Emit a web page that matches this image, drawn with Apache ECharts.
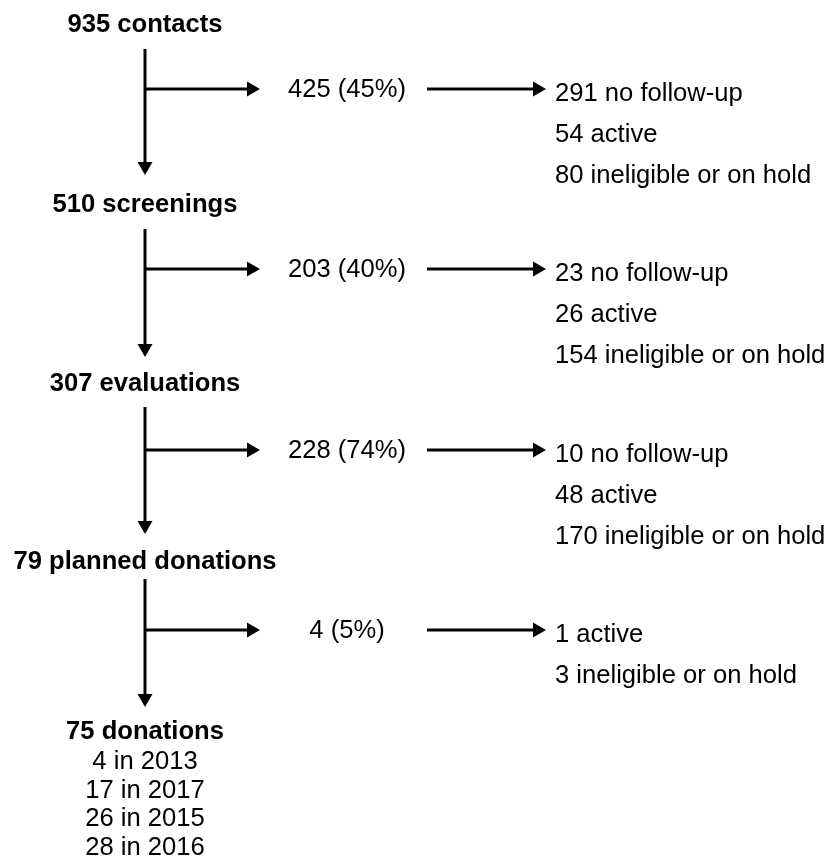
<!DOCTYPE html>
<html>
<head>
<meta charset="utf-8">
<script src="https://cdn.jsdelivr.net/npm/echarts@6/dist/echarts.min.js"></script>
<style>
  html, body { margin: 0; padding: 0; background: #ffffff; }
  #chart { width: 833px; height: 859px; }
</style>
</head>
<body>
<div id="chart"></div>
<script>
// ---------- DATA ----------
const stageCounts = [935, 510, 307, 79, 75];
const stageNames = ['contacts', 'screenings', 'evaluations', 'planned donations', 'donations'];
const exitCounts = [425, 203, 228, 4];
const exitPercents = [45, 40, 74, 5];
const noFollowUp = [291, 23, 10, null];
const active = [54, 26, 48, 1];
const ineligible = [80, 154, 170, 3];
const donationCounts = [4, 17, 26, 28];
const donationYears = [2013, 2017, 2015, 2016];

// ---------- LAYOUT (axis units = pixels of the canvas) ----------
const LAYOUT = {
  mainX: 145, branchTipX: 260, exitX: 347,
  outArrowX0: 427, outArrowX1: 546, outX: 555,
  stageY: [25, 205, 384, 562, 732],
  downStart: [49, 229, 407, 579],
  downTip: [175, 357, 534, 707],
  branchY: [89, 269, 450, 630],
  exitDy: 1, outDy: 5, outStep: 41,
  yearY0: 762, yearStep: 28.6
};
const FONT = '"Liberation Sans", Arial, sans-serif';
const FONT_SIZE = 25.6;
const INK = '#000000';
const LW = 3;
const HEAD_L = 13, HEAD_W = 15;

function hArrow(api, x0, x1, y) {
  const a = api.coord([x0, y]), b = api.coord([x1, y]);
  return [
    { type: 'line', shape: { x1: a[0], y1: a[1], x2: b[0] - HEAD_L + 1, y2: b[1] },
      style: { stroke: INK, lineWidth: LW } },
    { type: 'polygon', shape: { points: [[b[0], b[1]], [b[0] - HEAD_L, b[1] - HEAD_W / 2], [b[0] - HEAD_L, b[1] + HEAD_W / 2]] },
      style: { fill: INK } }
  ];
}
function vArrow(api, x, y0, y1) {
  const a = api.coord([x, y0]), b = api.coord([x, y1]);
  return [
    { type: 'line', shape: { x1: a[0], y1: a[1], x2: b[0], y2: b[1] - HEAD_L + 1 },
      style: { stroke: INK, lineWidth: LW } },
    { type: 'polygon', shape: { points: [[b[0], b[1]], [b[0] - HEAD_W / 2, b[1] - HEAD_L], [b[0] + HEAD_W / 2, b[1] - HEAD_L]] },
      style: { fill: INK } }
  ];
}
function txt(api, x, y, text, bold, align) {
  const p = api.coord([x, y]);
  return { type: 'text', style: { text: text, x: p[0], y: p[1], fill: INK,
    font: (bold ? 'bold ' : '') + FONT_SIZE + 'px ' + FONT, align: align || 'center', verticalAlign: 'middle' } };
}

const chart = echarts.init(document.getElementById('chart'), null, { renderer: 'canvas' });
chart.setOption({
  animation: false,
  backgroundColor: '#ffffff',
  grid: { left: 0, right: 0, top: 0, bottom: 0 },
  xAxis: { type: 'value', min: 0, max: 833, show: false },
  yAxis: { type: 'value', min: 0, max: 859, inverse: true, show: false },
  series: [
    { // stage headings
      type: 'custom', coordinateSystem: 'cartesian2d', silent: true,
      data: stageCounts.map((c, i) => [i]),
      renderItem: (params, api) => {
        const i = api.value(0);
        return txt(api, LAYOUT.mainX, LAYOUT.stageY[i], stageCounts[i] + ' ' + stageNames[i], true);
      }
    },
    { // down arrows + branch arrows + exit text + outcome arrows
      type: 'custom', coordinateSystem: 'cartesian2d', silent: true,
      data: exitCounts.map((c, i) => [i]),
      renderItem: (params, api) => {
        const i = api.value(0);
        const by = LAYOUT.branchY[i];
        let children = [];
        children = children.concat(vArrow(api, LAYOUT.mainX, LAYOUT.downStart[i], LAYOUT.downTip[i]));
        children = children.concat(hArrow(api, LAYOUT.mainX, LAYOUT.branchTipX, by));
        children.push(txt(api, LAYOUT.exitX, by + LAYOUT.exitDy, exitCounts[i] + ' (' + exitPercents[i] + '%)', false));
        children = children.concat(hArrow(api, LAYOUT.outArrowX0, LAYOUT.outArrowX1, by));
        const lines = [];
        if (noFollowUp[i] != null) lines.push(noFollowUp[i] + ' no follow-up');
        if (active[i] != null) lines.push(active[i] + ' active');
        if (ineligible[i] != null) lines.push(ineligible[i] + ' ineligible or on hold');
        lines.forEach((t, k) => {
          children.push(txt(api, LAYOUT.outX, by + LAYOUT.outDy + k * LAYOUT.outStep, t, false, 'left'));
        });
        return { type: 'group', children: children };
      }
    },
    { // donations by year
      type: 'custom', coordinateSystem: 'cartesian2d', silent: true,
      data: donationCounts.map((c, i) => [i]),
      renderItem: (params, api) => {
        const i = api.value(0);
        return txt(api, LAYOUT.mainX, LAYOUT.yearY0 + i * LAYOUT.yearStep,
          donationCounts[i] + ' in ' + donationYears[i], false);
      }
    }
  ]
});
</script>
</body>
</html>
